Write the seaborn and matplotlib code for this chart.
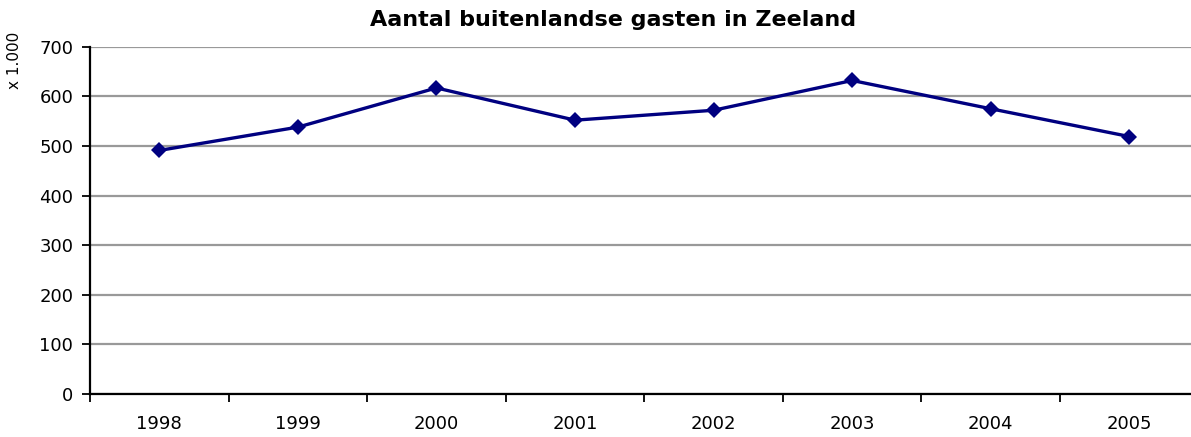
import matplotlib
matplotlib.use("Agg")
import matplotlib.pyplot as plt
import seaborn as sns
import pandas as pd
import numpy as np

years = ["1998", "1999", "2000", "2001", "2002", "2003", "2004", "2005"]
guests = [491, 538, 617, 552, 572, 632, 575, 519]
yticks = [0, 100, 200, 300, 400, 500, 600, 700]

sns.set_style("white")
plt.rcParams["font.family"] = ["DejaVu Sans"]
plt.rcParams["text.color"] = "black"
plt.rcParams["xtick.color"] = "black"
plt.rcParams["ytick.color"] = "black"
plt.rcParams["axes.labelcolor"] = "black"

df = pd.DataFrame({"pos": np.arange(len(years)), "guests": guests})

fig = plt.figure(figsize=(11.91, 4.37), dpi=100)
ax = fig.add_axes([0.0756, 0.0984, 0.9308, 0.7946])

sns.lineplot(data=df, x="pos", y="guests", ax=ax, color="#000080",
             linewidth=2.4, marker="D", markersize=8, markeredgewidth=0)

ax.set_xlim(-0.5, len(years) - 0.5)
ax.set_ylim(0, 700)
ax.set_yticks(yticks)
ax.set_yticklabels([str(v) for v in yticks], fontsize=13)
ax.yaxis.grid(True, color="#999999", linewidth=1.6)
ax.set_axisbelow(True)

# category boundaries carry the tick marks, centres carry the labels
ax.set_xticks(np.arange(len(years) + 1) - 0.5)
ax.set_xticklabels([])
ax.set_xticks(np.arange(len(years)), minor=True)
ax.set_xticklabels(years, minor=True, fontsize=13)
ax.tick_params(axis="x", which="major", direction="out", length=6, width=1.3, color="black", bottom=True)
ax.tick_params(axis="x", which="minor", length=0, pad=15)
ax.tick_params(axis="y", direction="out", length=6, width=1.3, color="black", left=True, pad=6)

for side in ["top", "right"]:
    ax.spines[side].set_visible(False)
for side in ["left", "bottom"]:
    ax.spines[side].set_color("black")
    ax.spines[side].set_linewidth(1.6)

ax.set_xlabel("")
ax.set_ylabel("x 1.000", fontsize=11)
ax.yaxis.set_label_coords(-0.061, 0.96)
fig.suptitle("Aantal buitenlandse gasten in Zeeland", fontsize=16, fontweight="bold",
             x=0.515, y=0.978)

fig.savefig("out.png", dpi=100)
